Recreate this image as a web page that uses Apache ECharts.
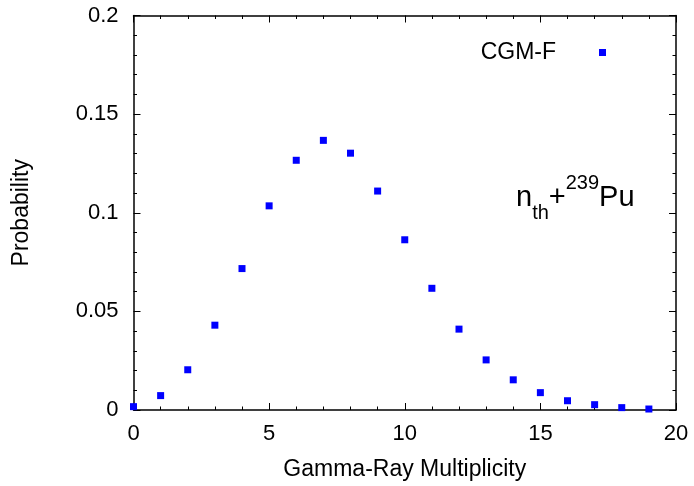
<!DOCTYPE html>
<html>
<head>
<meta charset="utf-8">
<script src="https://cdn.jsdelivr.net/npm/echarts@6/dist/echarts.min.js"></script>
<style>
  html, body { margin: 0; padding: 0; background: #fff; }
  #chart { width: 694px; height: 486px; }
</style>
</head>
<body>
<div id="chart"></div>
<script>
// Gamma-ray multiplicity distribution, thermal neutrons on Pu-239 (CGM-F)
const multiplicity = [0, 1, 2, 3, 4, 5, 6, 7, 8, 9, 10, 11, 12, 13, 14, 15, 16, 17, 18, 19];
const probability = [0.0017, 0.0073, 0.0204, 0.0430, 0.0717, 0.1035, 0.1266, 0.1367, 0.1302, 0.1110,
                     0.0863, 0.0617, 0.0410, 0.0254, 0.0153, 0.0088, 0.0047, 0.0027, 0.0012, 0.0005];
const seriesName = 'CGM-F';

const FONT = 'Liberation Sans, Arial, Helvetica, sans-serif';

const chart = echarts.init(document.getElementById('chart'), null, { renderer: 'canvas' });

const frameLine = { show: true, onZero: false, lineStyle: { color: '#000', width: 1.5 } };
const majorTick = { show: true, inside: true, length: 7, lineStyle: { color: '#000', width: 1 } };
const minorTick = { show: true, splitNumber: 5, length: 3.5, lineStyle: { color: '#000', width: 1 } };

chart.setOption({
  animation: false,
  backgroundColor: '#fff',
  grid: { left: 133.5, right: 18, top: 15.5, bottom: 73.5, containLabel: false },
  title: {
    text: '{n|n}{sub|th}{n|+}{sup|239}{n|Pu}',
    left: 511,
    top: 168,
    textStyle: {
      fontWeight: 'normal',
      rich: {
        n: { fontFamily: FONT, fontSize: 29, fontWeight: 'normal', color: '#000', lineHeight: 50, verticalAlign: 'middle' },
        sub: { fontFamily: FONT, fontSize: 20, fontWeight: 'normal', color: '#000', lineHeight: 30, verticalAlign: 'bottom' },
        sup: { fontFamily: FONT, fontSize: 20, fontWeight: 'normal', color: '#000', lineHeight: 30, verticalAlign: 'top' }
      }
    }
  },
  legend: {
    data: [seriesName],
    right: 83,
    top: 36,
    align: 'right',
    icon: 'rect',
    itemWidth: 7,
    itemHeight: 7,
    itemStyle: { opacity: 1 },
    textStyle: { fontFamily: FONT, fontSize: 23, color: '#000', padding: [0, 38, 0, 0] }
  },
  xAxis: [
    {
      type: 'value', min: 0, max: 20, interval: 5, position: 'bottom',
      name: 'Gamma-Ray Multiplicity', nameLocation: 'middle', nameGap: 48,
      nameTextStyle: { fontFamily: FONT, fontSize: 23, color: '#000' },
      axisLine: frameLine, axisTick: majorTick, minorTick: minorTick,
      axisLabel: { fontFamily: FONT, fontSize: 22, color: '#000', margin: 13 },
      splitLine: { show: false }
    },
    {
      type: 'value', min: 0, max: 20, interval: 5, position: 'top',
      axisLine: frameLine, axisTick: majorTick, minorTick: minorTick,
      axisLabel: { show: false }, splitLine: { show: false }
    }
  ],
  yAxis: [
    {
      type: 'value', min: 0, max: 0.2, interval: 0.05, position: 'left',
      name: 'Probability', nameLocation: 'middle', nameGap: 100, nameRotate: 90,
      nameTextStyle: { fontFamily: FONT, fontSize: 23, color: '#000' },
      axisLine: frameLine, axisTick: majorTick, minorTick: minorTick,
      axisLabel: { fontFamily: FONT, fontSize: 22, color: '#000', margin: 15 },
      splitLine: { show: false }
    },
    {
      type: 'value', min: 0, max: 0.2, interval: 0.05, position: 'right',
      axisLine: frameLine, axisTick: majorTick, minorTick: minorTick,
      axisLabel: { show: false }, splitLine: { show: false }
    }
  ],
  series: [
    {
      name: seriesName,
      type: 'scatter',
      symbol: 'rect',
      symbolSize: 7,
      clip: false,
      itemStyle: { color: '#0000ff', opacity: 1 },
      data: multiplicity.map((m, i) => [m, probability[i]])
    }
  ]
});
</script>
</body>
</html>
